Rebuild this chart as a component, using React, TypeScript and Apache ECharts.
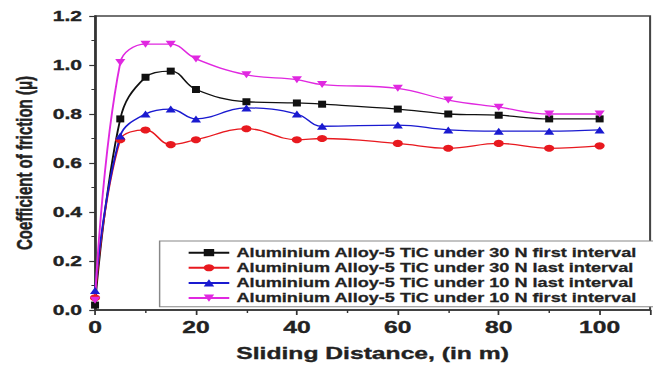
import React, { useEffect, useRef } from "react";
import * as echarts from "echarts";

const distances = [0, 5, 10, 15, 20, 30, 40, 45, 60, 70, 80, 90, 100];
const seriesNames = [
  "Aluminium Alloy-5 TiC under 30 N first interval",
  "Aluminium Alloy-5 TiC under 30 N last interval",
  "Aluminium Alloy-5 TiC under 10 N last interval",
  "Aluminium Alloy-5 TiC under 10 N first interval",
];
const n30First = [0.02, 0.78, 0.95, 0.975, 0.9, 0.85, 0.845, 0.84, 0.82, 0.8, 0.795, 0.78, 0.78];
const n30Last = [0.05, 0.695, 0.735, 0.675, 0.695, 0.74, 0.695, 0.7, 0.68, 0.66, 0.68, 0.66, 0.67];
const n10Last = [0.08, 0.71, 0.8, 0.82, 0.78, 0.825, 0.8, 0.75, 0.755, 0.735, 0.73, 0.73, 0.735];
const n10First = [0.04, 1.01, 1.085, 1.085, 1.025, 0.96, 0.94, 0.92, 0.905, 0.857, 0.828, 0.8, 0.8];

const seriesValues = [n30First, n30Last, n10Last, n10First];
const colors = ["#111111", "#e8191f", "#1a1ad0", "#e028e0"];
const symbols = ["rect", "circle", "triangle", "triangle"];
const rotations = [0, 0, 0, 180];

const BASE_W = 450;
const H = 367;
const FULL_W = 653;

export default function App() {
  const ref = useRef<HTMLDivElement>(null);
  useEffect(() => {
    document.body.style.margin = "0";
    document.body.style.overflow = "hidden";
    if (!ref.current) return;
    const chart = echarts.init(ref.current, null, { renderer: "svg" });
    const font = "Liberation Sans, Arial, sans-serif";
    const heavy = { textBorderColor: "#222", textBorderWidth: 0.35 };
    chart.setOption({
      animation: false,
      backgroundColor: "#ffffff",
      grid: {
        left: 65.5,
        right: 2,
        top: 16,
        bottom: 57,
        show: true,
        borderColor: "#444",
        borderWidth: 1.4,
      },
      legend: {
        orient: "vertical",
        left: 110,
        top: 241,
        padding: [5, 12, 2, 19],
        itemWidth: 28,
        itemHeight: 9,
        itemGap: 1.9,
        borderColor: "#888",
        borderWidth: 1,
        backgroundColor: "#fff",
        textStyle: {
          fontFamily: font,
          fontWeight: "bold",
          fontSize: 12.5,
          color: "#222",
          ...heavy,
          textBorderWidth: 0.25,
        },
        data: seriesNames,
      },
      xAxis: {
        type: "value",
        min: 0,
        max: 110,
        interval: 20,
        name: "Sliding Distance, (in m)",
        nameLocation: "middle",
        nameGap: 34,
        nameTextStyle: { fontFamily: font, fontWeight: "bold", fontSize: 17, color: "#222", ...heavy },
        axisLine: { show: true, lineStyle: { color: "#333", width: 1.5 } },
        axisTick: { show: true, length: 5, lineStyle: { color: "#333", width: 1.2 } },
        minorTick: { show: true, splitNumber: 2, length: 3, lineStyle: { color: "#333", width: 1 } },
        splitLine: { show: false },
        axisLabel: {
          fontFamily: font,
          fontWeight: "bold",
          fontSize: 17,
          color: "#222",
          margin: 8,
          showMaxLabel: false,
          ...heavy,
        },
      },
      yAxis: {
        type: "value",
        min: 0,
        max: 1.2,
        interval: 0.2,
        name: "Coefficient of friction (μ)",
        nameLocation: "middle",
        nameGap: 41,
        nameTextStyle: {
          fontFamily: font,
          fontWeight: "bold",
          fontSize: 15,
          color: "#222",
          ...heavy,
        },
        axisLine: { show: true, lineStyle: { color: "#333", width: 1.5 } },
        axisTick: { show: true, length: 4, lineStyle: { color: "#333", width: 1.2 } },
        minorTick: { show: true, splitNumber: 2, length: 2.5, lineStyle: { color: "#333", width: 1 } },
        splitLine: { show: false },
        axisLabel: {
          fontFamily: font,
          fontWeight: "bold",
          fontSize: 14.5,
          color: "#222",
          margin: 9,
          formatter: (v: number) => v.toFixed(1),
          ...heavy,
        },
      },
      series: seriesNames.map((name, i) => ({
        name,
        type: "line",
        smooth: 0.4,
        data: distances.map((d, j) => [d, seriesValues[i][j]]),
        symbol: symbols[i],
        symbolRotate: rotations[i],
        symbolSize: i === 0 ? [5.5, 7] : 7,
        color: colors[i],
        lineStyle: { color: colors[i], width: 1.3 },
        itemStyle: { color: colors[i] },
      })),
    });
    return () => chart.dispose();
  }, []);
  return (
    <div
      ref={ref}
      style={{
        position: "fixed",
        left: 0,
        top: 0,
        width: BASE_W,
        height: H,
        transform: `scaleX(${FULL_W / BASE_W})`,
        transformOrigin: "0 0",
      }}
    />
  );
}
